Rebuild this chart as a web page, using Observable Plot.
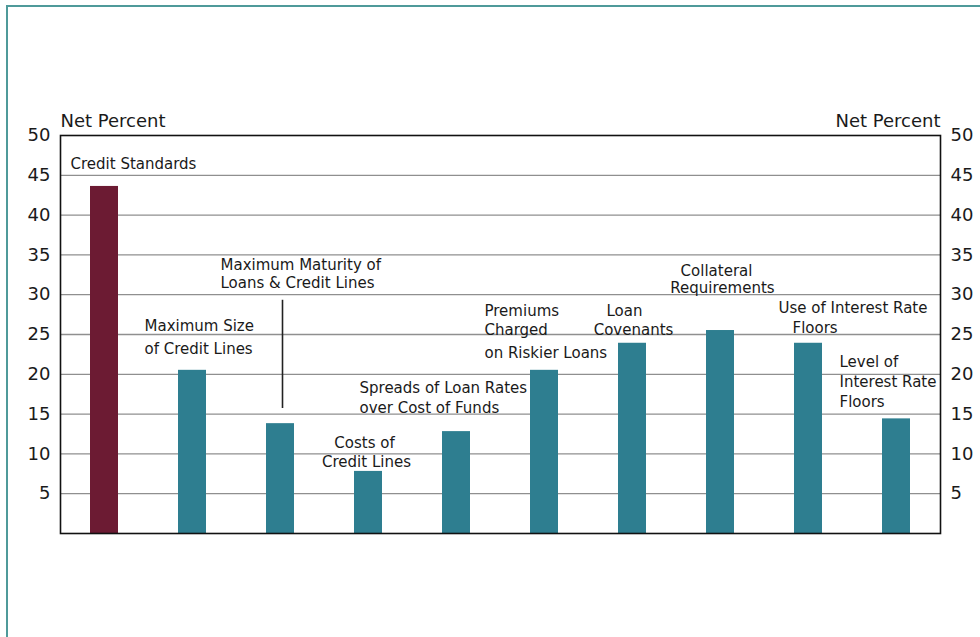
<!DOCTYPE html>
<html>
<head>
<meta charset="utf-8">
<script src="https://cdn.jsdelivr.net/npm/d3@7"></script>
<script src="https://cdn.jsdelivr.net/npm/@observablehq/plot@0.6"></script>
<style>
  html, body { margin: 0; padding: 0; background: #fff; }
  #wrap { position: relative; width: 980px; height: 637px; overflow: hidden; }
  #border { position: absolute; left: 6px; top: 5px; width: 990px; height: 650px;
            border-left: 2.5px solid #4f9a9a; border-top: 2.5px solid #4f9a9a; }
  #chart { position: absolute; left: 0; top: 0; }
</style>
</head>
<body>
<div id="wrap"><div id="border"></div><div id="chart"></div></div>
<script>
// Categories and values (net percent)
const categories = [
  "Credit Standards",
  "Maximum Size of Credit Lines",
  "Maximum Maturity of Loans & Credit Lines",
  "Costs of Credit Lines",
  "Spreads of Loan Rates over Cost of Funds",
  "Premiums Charged on Riskier Loans",
  "Loan Covenants",
  "Collateral Requirements",
  "Use of Interest Rate Floors",
  "Level of Interest Rate Floors"
];
const values = [43.6, 20.5, 13.8, 7.8, 12.8, 20.5, 23.9, 25.5, 23.9, 14.4];
const highlight = ["Credit Standards"];
const yTicks = [5, 10, 15, 20, 25, 30, 35, 40, 45, 50];
const gridLines = [5, 10, 15, 20, 25, 30, 35, 40, 45];
const axisTitle = "Net Percent";

// Annotation lines: category, text, y (net percent level of the line)
const labelCategory = [
  "Credit Standards",
  "Maximum Size of Credit Lines", "Maximum Size of Credit Lines",
  "Maximum Maturity of Loans & Credit Lines", "Maximum Maturity of Loans & Credit Lines",
  "Costs of Credit Lines", "Costs of Credit Lines",
  "Spreads of Loan Rates over Cost of Funds", "Spreads of Loan Rates over Cost of Funds",
  "Premiums Charged on Riskier Loans", "Premiums Charged on Riskier Loans", "Premiums Charged on Riskier Loans",
  "Loan Covenants", "Loan Covenants",
  "Collateral Requirements", "Collateral Requirements",
  "Use of Interest Rate Floors", "Use of Interest Rate Floors",
  "Level of Interest Rate Floors", "Level of Interest Rate Floors", "Level of Interest Rate Floors"
];
const labelText = [
  "Credit Standards",
  "Maximum Size", "of Credit Lines",
  "Maximum Maturity of", "Loans & Credit Lines",
  "Costs of", "Credit Lines",
  "Spreads of Loan Rates", "over Cost of Funds",
  "Premiums", "Charged", "on Riskier Loans",
  "Loan", "Covenants",
  "Collateral", "Requirements",
  "Use of Interest Rate", "Floors",
  "Level of", "Interest Rate", "Floors"
];
const labelY = [
  46.4,
  26.0, 23.1,
  33.7, 31.5,
  11.4, 8.9,
  18.3, 15.8,
  27.9, 25.5, 22.7,
  27.9, 25.5,
  32.9, 30.8,
  28.3, 25.8,
  21.5, 19.0, 16.5
];
const labelShift = [-34, -48, -48, -60, -60, -4, -2, -97, -97, -60, -60, -60, -8, 1, -4, 2, -30, -16, -57, -57, -57];
const labelAnchor = ["start","start","start","start","start","middle","middle","start","start","start","start","start","middle","middle","middle","middle","start","start","start","start","start"];

// Leader line for the Maximum Maturity label
const leaderCategory = ["Maximum Maturity of Loans & Credit Lines"];
const leaderFrom = [29.3];
const leaderTo = [15.7];

const bars = categories.map((c, i) => ({cat: c, value: values[i], hi: highlight.includes(c)}));
const labels = labelText.map((t, i) => ({cat: labelCategory[i], text: t, y: labelY[i], dx: labelShift[i], anchor: labelAnchor[i]}));
const leader = leaderCategory.map((c, i) => ({cat: c, from: leaderFrom[i], to: leaderTo[i]}));

const font = "DejaVu Sans, Verdana, sans-serif";
const textColor = "#1a1a1a";

const labelGroups = d3.groups(labels, d => d.dx + "|" + d.anchor).map(([, rows]) =>
  Plot.text(rows, {
    x: "cat", y: "y", text: "text", textAnchor: rows[0].anchor, lineAnchor: "middle",
    dx: rows[0].dx, fontSize: 15, fill: textColor
  })
);

const chart = Plot.plot({
  width: 980,
  height: 637,
  marginLeft: 60,
  marginRight: 40,
  marginTop: 135,
  marginBottom: 104,
  style: {fontFamily: font, background: "transparent"},
  x: {domain: categories, paddingInner: 0.682, paddingOuter: 0.341, axis: null},
  y: {domain: [0, 50], axis: null},
  marks: [
    Plot.ruleY(gridLines, {stroke: "#8f8f8f", strokeWidth: 1.3}),
    Plot.barY(bars, {x: "cat", y: "value", fill: d => d.hi ? "#6c1b33" : "#2e7e90"}),
    Plot.ruleX(leader, {x: "cat", y1: "from", y2: "to", stroke: "#222", strokeWidth: 1.6, dx: 2}),
    Plot.frame({stroke: "#111", strokeWidth: 1.6}),
    Plot.axisY({anchor: "left", ticks: yTicks, tickSize: 0, tickPadding: 10, label: null, fontSize: 18, fill: textColor}),
    Plot.axisY({anchor: "right", ticks: yTicks, tickSize: 0, tickPadding: 10, label: null, fontSize: 18, fill: textColor, textAnchor: "start"}),
    Plot.text([axisTitle], {frameAnchor: "top-left", textAnchor: "start", lineAnchor: "bottom", dy: -9, fontSize: 18, fill: textColor}),
    Plot.text([axisTitle], {frameAnchor: "top-right", textAnchor: "end", lineAnchor: "bottom", dy: -9, fontSize: 18, fill: textColor}),
    ...labelGroups
  ]
});
document.getElementById("chart").appendChild(chart);
</script>
</body>
</html>
